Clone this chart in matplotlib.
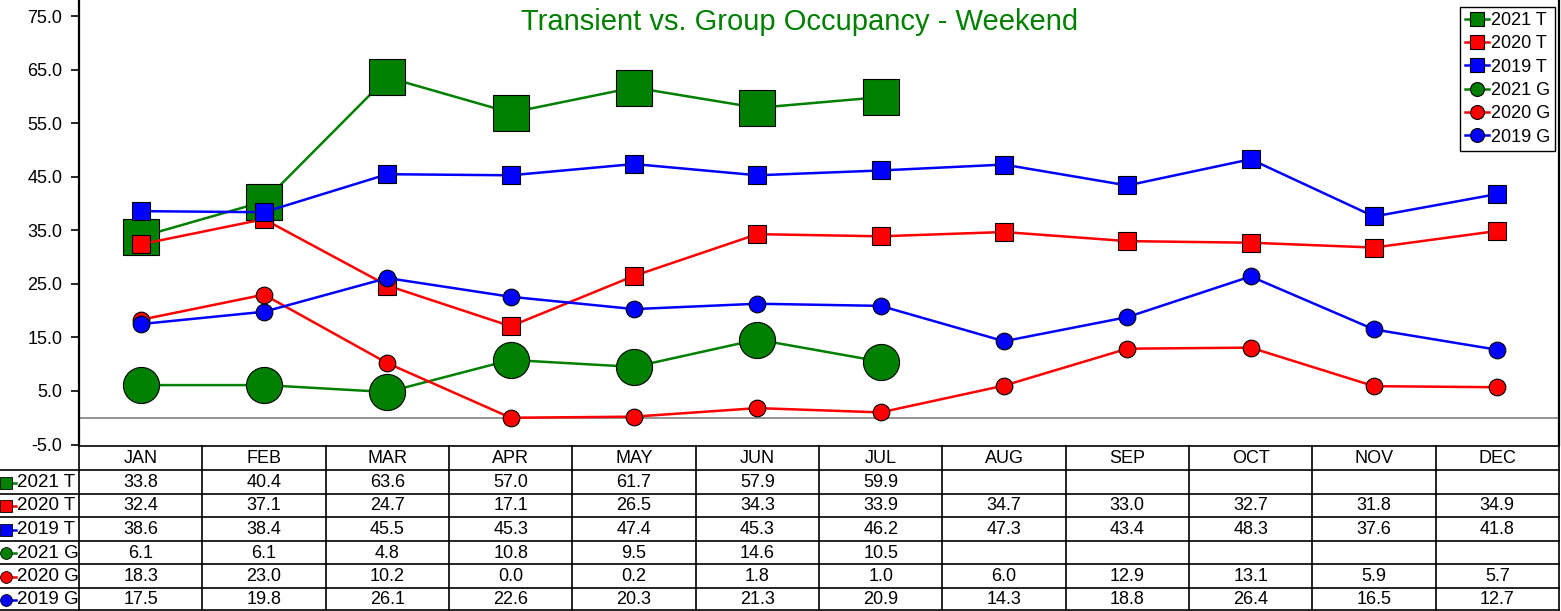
import numpy as np
import matplotlib.pyplot as plt
from matplotlib.lines import Line2D

plt.rcParams['font.family'] = ['Liberation Sans', 'DejaVu Sans']

months = ["JAN", "FEB", "MAR", "APR", "MAY", "JUN", "JUL", "AUG", "SEP", "OCT", "NOV", "DEC"]
nan = np.nan
t2021 = [33.8, 40.4, 63.6, 57.0, 61.7, 57.9, 59.9, nan, nan, nan, nan, nan]
t2020 = [32.4, 37.1, 24.7, 17.1, 26.5, 34.3, 33.9, 34.7, 33.0, 32.7, 31.8, 34.9]
t2019 = [38.6, 38.4, 45.5, 45.3, 47.4, 45.3, 46.2, 47.3, 43.4, 48.3, 37.6, 41.8]
g2021 = [6.1, 6.1, 4.8, 10.8, 9.5, 14.6, 10.5, nan, nan, nan, nan, nan]
g2020 = [18.3, 23.0, 10.2, 0.0, 0.2, 1.8, 1.0, 6.0, 12.9, 13.1, 5.9, 5.7]
g2019 = [17.5, 19.8, 26.1, 22.6, 20.3, 21.3, 20.9, 14.3, 18.8, 26.4, 16.5, 12.7]

series = [
    ("2021 T", t2021, "green", "s", 26),
    ("2020 T", t2020, "red", "s", 13),
    ("2019 T", t2019, "blue", "s", 13),
    ("2021 G", g2021, "green", "o", 26),
    ("2020 G", g2020, "red", "o", 12),
    ("2019 G", g2019, "blue", "o", 12),
]

W, H = 1561, 611
fig = plt.figure(figsize=(W / 100, H / 100), dpi=100)

# main chart area (pixel edges converted to figure fractions)
left_px, right_px, top_px, bot_px = 79, 1559, 0, 444.5
ax = fig.add_axes([left_px / W, (H - bot_px) / H, (right_px - left_px) / W, (bot_px - top_px) / H])
x = np.arange(len(months))
ax.set_xlim(-0.5, len(months) - 0.5)
ax.set_ylim(-5, 78.05)
yt = np.arange(-5, 76, 10)
ax.set_yticks(yt)
ax.set_yticklabels([f"{v:.1f}" for v in yt], fontsize=13)
ax.tick_params(axis='y', direction='out', length=6, width=1.2, pad=6)
ax.set_xticks([])
ax.spines['top'].set_visible(False)
ax.spines['bottom'].set_visible(False)
ax.spines['left'].set_linewidth(1.6)
ax.spines['right'].set_linewidth(1.6)
ax.axhline(0, color="#808080", lw=1.2, zorder=1)

handles = []
for name, vals, col, mk, ms in series:
    ax.plot(x, vals, color=col, lw=1.8, marker=mk, markersize=ms,
            markeredgecolor="black", markeredgewidth=0.8, zorder=3)
    handles.append(Line2D([], [], color=col, lw=1.8, marker=mk, markersize=10,
                          markeredgecolor="black", markeredgewidth=0.8, label=name))

ax.set_title("Transient vs. Group Occupancy - Weekend", color="green", fontsize=21,
             y=1 - 30 / (bot_px - top_px), pad=0, x=(800 - left_px) / (right_px - left_px))
leg = ax.legend(handles=handles, loc="upper right", bbox_to_anchor=(0.9975, 0.985),
                fontsize=13, handlelength=1.3, handletextpad=0.1, borderpad=0.3,
                labelspacing=0.35, fancybox=False, framealpha=1, borderaxespad=0)
leg.get_frame().set_edgecolor("black")
leg.get_frame().set_linewidth(1.0)

# data table underneath, laid out in pixel coordinates
tb = fig.add_axes([0, 0, 1, 1], facecolor="none")
tb.set_xlim(0, W)
tb.set_ylim(H, 0)
tb.axis("off")
row_lines = [445.5, 469.5, 493.5, 516.5, 540.5, 564, 587.5, 609.5]
col_w = (right_px - left_px) / len(months)
col_x = [left_px + i * col_w for i in range(len(months) + 1)]
lc = "black"
tb.plot([left_px, right_px], [row_lines[0]] * 2, color=lc, lw=1.2)
for y in row_lines[1:]:
    tb.plot([0, right_px], [y, y], color=lc, lw=1.2)
for cx in col_x:
    tb.plot([cx, cx], [row_lines[0], row_lines[-1]], color=lc, lw=1.2)

for i, m in enumerate(months):
    tb.text(col_x[i] + col_w / 2, (row_lines[0] + row_lines[1]) / 2 + 1, m,
            ha="center", va="center", fontsize=13)

for r, (name, vals, col, mk, ms) in enumerate(series):
    yc = (row_lines[r + 1] + row_lines[r + 2]) / 2 + 1
    tb.plot([2, 16], [yc, yc], color=col, lw=1.8)
    tb.plot([6], [yc], marker=mk, markersize=8.5, color=col,
            markeredgecolor="black", markeredgewidth=0.6)
    tb.text(17, yc, name, ha="left", va="center", fontsize=13.5)
    for i, v in enumerate(vals):
        if not np.isnan(v):
            tb.text(col_x[i] + col_w / 2, yc, f"{v:.1f}", ha="center", va="center", fontsize=13)

fig.savefig("out.png", dpi=100)
